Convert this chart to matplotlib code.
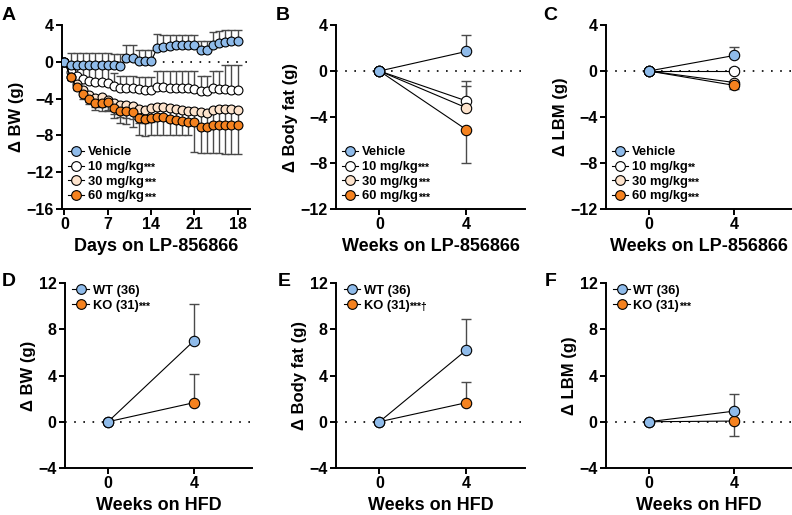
import matplotlib
matplotlib.use("Agg")
import matplotlib.pyplot as plt
from matplotlib.lines import Line2D
import numpy as np

plt.rcParams['font.family'] = ['Liberation Sans', 'DejaVu Sans']
plt.rcParams['font.weight'] = 'bold'
plt.rcParams['axes.labelweight'] = 'bold'

# ---- data ----
days = list(range(29))
veh_a = [0, -0.3, -0.4, -0.3, -0.3, -0.4, -0.4, -0.4, -0.4, -0.5, 0.45, 0.45, 0.1, 0.05, 0.05,
         1.5, 1.6, 1.7, 1.8, 1.8, 1.8, 1.8, 1.3, 1.3, 1.8, 2.0, 2.2, 2.3, 2.3]
veh_a_err = [0, 1.3, 1.4, 1.3, 1.3, 1.4, 1.4, 1.4, 1.3, 1.3, 1.4, 1.4, 1.2, 1.2, 1.2,
             1.5, 1.3, 1.2, 1.1, 1.1, 1.1, 1.1, 1.0, 1.0, 1.4, 1.3, 1.3, 1.2, 1.2]
ten_a = [0, -1.1, -1.5, -1.9, -2.1, -2.2, -2.2, -2.3, -2.6, -2.8, -2.9, -2.9, -3.0, -3.1, -3.1,
         -2.7, -2.7, -2.8, -2.9, -2.9, -2.9, -3.0, -3.2, -3.2, -2.9, -3.0, -3.0, -3.1, -3.1]
ten_a_err = [0, 0.9, 1.1, 1.3, 1.5, 1.6, 1.6, 1.7, 1.4, 1.3, 1.4, 1.4, 1.4, 1.5, 1.5,
             1.7, 1.7, 1.8, 1.9, 1.9, 1.9, 2.0, 1.7, 1.7, 1.9, 2.0, 2.6, 2.7, 2.7]
thirty_a = [0, -1.6, -2.4, -3.1, -3.6, -3.9, -3.8, -4.1, -4.5, -4.7, -4.7, -4.8, -5.1, -5.2, -5.0,
            -4.9, -4.9, -5.0, -5.1, -5.2, -5.3, -5.3, -5.5, -5.6, -5.2, -5.1, -5.1, -5.1, -5.2]
thirty_a_err = [0, 0.4, 0.5, 0.6, 0.8, 1.0, 1.1, 1.1, 1.2, 1.3, 1.4, 1.4, 1.5, 1.5, 1.5,
                1.4, 1.4, 1.5, 1.5, 1.5, 1.5, 1.6, 1.7, 1.7, 1.6, 1.6, 1.6, 1.6, 1.6]
sixty_a = [0, -1.7, -2.7, -3.5, -4.0, -4.5, -4.5, -4.4, -5.0, -5.4, -5.4, -5.5, -6.1, -6.2, -6.1,
           -6.0, -6.0, -6.2, -6.3, -6.4, -6.5, -6.5, -7.1, -7.1, -6.9, -6.9, -6.9, -6.9, -6.9]
sixty_a_err = [0, 0.3, 0.4, 0.5, 0.6, 0.7, 0.8, 0.9, 1.1, 1.2, 1.4, 1.6, 1.9, 1.9, 1.9,
               2.0, 2.0, 1.8, 1.7, 1.6, 1.5, 3.3, 2.8, 2.8, 3.0, 3.0, 3.1, 3.1, 3.1]

weeks = [0, 4]
# panel B (body fat)
veh_b, veh_b_err = [0, 1.7], [0, 1.4]
ten_b, ten_b_err = [0, -2.6], [0, 1.7]
thirty_b, thirty_b_err = [0, -3.2], [0, 1.9]
sixty_b, sixty_b_err = [0, -5.1], [0, 2.9]
# panel C (LBM)
veh_c, veh_c_err = [0, 1.35], [0, 0.7]
ten_c, ten_c_err = [0, 0.0], [0, 0.3]
thirty_c, thirty_c_err = [0, -1.0], [0, 0.4]
sixty_c, sixty_c_err = [0, -1.25], [0, 0.3]
# panels D-F (HFD)
wt_d, wt_d_err = [0, 7.0], [0, 3.2]
ko_d, ko_d_err = [0, 1.65], [0, 2.45]
wt_e, wt_e_err = [0, 6.2], [0, 2.7]
ko_e, ko_e_err = [0, 1.65], [0, 1.75]
wt_f, wt_f_err = [0, 0.92], [0, 1.45]
ko_f, ko_f_err = [0, 0.06], [0, 1.3]

dose_labels = ['Vehicle', '10 mg/kg', '30 mg/kg', '60 mg/kg']
geno_labels = ['WT (36)', 'KO (31)']

c_veh = '#8fbbea'
c_ten = '#ffffff'
c_thirty = '#fde3cc'
c_sixty = '#f5821f'

W, H = 792, 515
fig = plt.figure(figsize=(W / 100, H / 100), dpi=100)


def axes_px(l, t, r, b):
    return fig.add_axes([l / W, 1 - b / H, (r - l) / W, (b - t) / H])


def style(ax):
    for s in ['top', 'right']:
        ax.spines[s].set_visible(False)
    for s in ['left', 'bottom']:
        ax.spines[s].set_linewidth(1.4)
    ax.tick_params(width=1.4, length=4, labelsize=11.5, pad=2)
    ax.axhline(0, color='black', lw=1.2, ls=(0, (1, 4.5)), zorder=1)


def series(ax, x, y, err, color, up, ms, z, capsize):
    e = np.array(err)
    yerr = [np.zeros_like(e), e] if up else [e, np.zeros_like(e)]
    ax.errorbar(x, y, yerr=yerr, fmt='none', ecolor='#4a4a4a', elinewidth=1.0,
                capsize=capsize, capthick=1.0, zorder=2)
    ax.plot(x, y, color='black', lw=0.8, marker='o', ms=ms, mfc=color,
            mec='black', mew=0.8, zorder=z)


def legend(ax, colors, labels, marks, anchor, mark_size=7):
    handles = [Line2D([], [], color='black', lw=0.8, marker='o', ms=mark_size,
                      mfc=c, mec='black', mew=0.8) for c in colors]
    leg = ax.legend(handles, labels, loc='upper left', bbox_to_anchor=anchor,
                    frameon=False, handlelength=1.3, handletextpad=0.25,
                    labelspacing=0.2, borderaxespad=0, borderpad=0,
                    prop={'weight': 'bold', 'size': 9.3})
    for t, m in zip(leg.get_texts(), marks):
        if m:
            ax.annotate(m, xy=(1, 0.0), xycoords=t, fontsize=7.5, fontweight='bold',
                        va='bottom', ha='left', zorder=10)
    return leg


# ---- panel A ----
axA = axes_px(62, 25, 250, 209)
style(axA)
series(axA, days, ten_a, ten_a_err, c_ten, True, 6.4, 3, 2.8)
series(axA, days, thirty_a, thirty_a_err, c_thirty, False, 6.4, 4, 2.8)
series(axA, days, sixty_a, sixty_a_err, c_sixty, False, 6.4, 5, 2.8)
series(axA, days, veh_a, veh_a_err, c_veh, True, 6.4, 6, 2.8)
axA.set_xlim(-0.4, 30)
axA.set_ylim(-16, 4)
axA.set_yticks([4, 0, -4, -8, -12, -16])
axA.set_xticks([0, 7, 14, 21, 28])
axA.set_xticklabels(['0', '7', '14', '21', '18'])
axA.set_xlabel('Days on LP-856866', fontsize=13, labelpad=4)
axA.set_ylabel('\u0394 BW (g)', fontsize=12, labelpad=2)
legend(axA, [c_veh, c_ten, c_thirty, c_sixty], dose_labels, ['', '***', '***', '***'],
       (0.03, 0.34))

# ---- panel B ----
axB = axes_px(336, 25, 525, 209)
style(axB)
series(axB, weeks, ten_b, ten_b_err, c_ten, True, 7.5, 3, 3.5)
series(axB, weeks, thirty_b, thirty_b_err, c_thirty, True, 7.5, 4, 3.5)
series(axB, weeks, sixty_b, sixty_b_err, c_sixty, False, 7.5, 5, 3.5)
series(axB, weeks, veh_b, veh_b_err, c_veh, True, 7.5, 6, 3.5)
axB.set_xlim(-2, 6.7)
axB.set_ylim(-12, 4)
axB.set_yticks([4, 0, -4, -8, -12])
axB.set_xticks([0, 4])
axB.set_xlabel('Weeks on LP-856866', fontsize=13, labelpad=4)
axB.set_ylabel('\u0394 Body fat (g)', fontsize=12, labelpad=2)
legend(axB, [c_veh, c_ten, c_thirty, c_sixty], dose_labels, ['', '***', '***', '***'],
       (0.03, 0.34))

# ---- panel C ----
axC = axes_px(606, 25, 792, 209)
style(axC)
series(axC, weeks, ten_c, ten_c_err, c_ten, True, 7.5, 3, 3.5)
series(axC, weeks, thirty_c, thirty_c_err, c_thirty, False, 7.5, 4, 3.5)
series(axC, weeks, sixty_c, sixty_c_err, c_sixty, False, 7.5, 5, 3.5)
series(axC, weeks, veh_c, veh_c_err, c_veh, True, 7.5, 6, 3.5)
axC.set_xlim(-2, 6.7)
axC.set_ylim(-12, 4)
axC.set_yticks([4, 0, -4, -8, -12])
axC.set_xticks([0, 4])
axC.set_xlabel('Weeks on LP-856866', fontsize=13, labelpad=4)
axC.set_ylabel('\u0394 LBM (g)', fontsize=12, labelpad=2)
legend(axC, [c_veh, c_ten, c_thirty, c_sixty], dose_labels, ['', '**', '***', '***'],
       (0.03, 0.34))

# ---- panels D-F ----
hfd = [
    (65, 252, wt_d, wt_d_err, ko_d, ko_d_err, '\u0394 BW (g)', '***'),
    (336, 525, wt_e, wt_e_err, ko_e, ko_e_err, '\u0394 Body fat (g)', '***\u2020'),
    (606, 792, wt_f, wt_f_err, ko_f, ko_f_err, '\u0394 LBM (g)', '***'),
]
for left, right, wt, wt_err, ko, ko_err, ylab, mark in hfd:
    ax = axes_px(left, 283, right, 468)
    style(ax)
    series(ax, weeks, ko, ko_err, c_sixty, ko[1] > 1, 7.5, 4, 3.5)
    series(ax, weeks, wt, wt_err, c_veh, True, 7.5, 5, 3.5)
    ax.set_xlim(-2, 6.7)
    ax.set_ylim(-4, 12)
    ax.set_yticks([12, 8, 4, 0, -4])
    ax.set_xticks([0, 4])
    ax.set_xlabel('Weeks on HFD', fontsize=13, labelpad=4)
    ax.set_ylabel(ylab, fontsize=12, labelpad=2)
    legend(ax, [c_veh, c_sixty], geno_labels, ['', mark], (0.04, 0.99))

# panel letters
for letter, x, y in [('A', 2, 20), ('B', 276, 20), ('C', 543, 20),
                     ('D', 2, 286), ('E', 278, 286), ('F', 545, 286)]:
    fig.text(x / W, 1 - y / H, letter, fontsize=14, fontweight='bold', va='baseline')

fig.canvas.draw()
fig.savefig('out.png', dpi=100)
